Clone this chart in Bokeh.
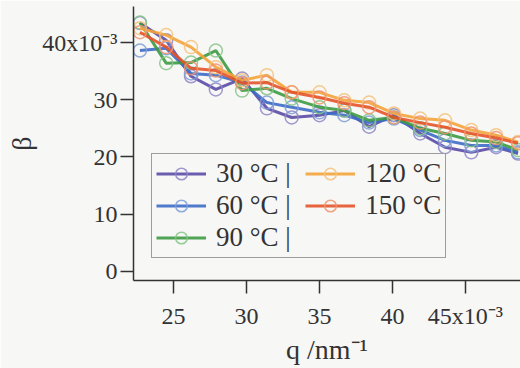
from bokeh.plotting import figure
from bokeh.models import Range1d, FixedTicker, Legend, LegendItem
from bokeh.embed import file_html
from bokeh.resources import INLINE

# q in units of 1e-3 nm^-1, beta in units of 1e-3
q = [22.7, 24.5, 26.2, 27.9, 29.7, 31.4, 33.1, 35.0, 36.7, 38.4, 40.1, 41.9, 43.6, 45.4, 47.1, 48.6]

beta_30 = [43.4, 40.4, 34.1, 31.8, 33.7, 28.5, 26.9, 27.3, 28.1, 25.3, 27.3, 24.1, 21.7, 20.8, 21.7, 20.6]
beta_60 = [38.6, 39.0, 34.6, 34.3, 33.0, 29.5, 28.7, 27.8, 27.3, 26.0, 26.7, 24.7, 22.9, 22.0, 22.0, 20.8]
beta_90 = [43.5, 36.4, 36.5, 38.6, 31.6, 32.0, 30.2, 28.7, 28.1, 26.4, 26.9, 25.0, 24.1, 22.9, 22.6, 21.2]
beta_120 = [42.5, 41.3, 39.2, 35.7, 33.4, 34.3, 31.3, 31.3, 29.9, 29.5, 27.6, 26.7, 26.4, 24.7, 23.8, 22.6]
beta_150 = [41.8, 39.2, 35.5, 35.1, 32.9, 33.0, 31.3, 30.4, 29.4, 28.7, 26.9, 26.0, 25.2, 24.1, 23.3, 22.4]

labels = ["30 °C |\u00a0\u00a0", "60 °C |\u00a0\u00a0", "90 °C |\u00a0\u00a0", "120 °C", "150 °C"]
x_ticks = [25, 30, 35, 40, 45]
y_ticks = [0, 10, 20, 30, 40]

series = [beta_30, beta_60, beta_90, beta_120, beta_150]
line_colors = ["#5a4aa6", "#3d6cc6", "#3c9a44", "#f4a33a", "#e4532a"]
marker_colors = ["#8f86c6", "#7f9ed8", "#86c488", "#f6c27a", "#f09470"]

FONT = "'Liberation Serif'"
TXT = "#333333"
BG = "#f7f7f5"

p = figure(width=520, height=368, output_backend="svg", toolbar_location=None,
           x_range=Range1d(22.26, 48.77), y_range=Range1d(-1.6, 46.3),
           min_border_left=133, min_border_right=0, min_border_top=6, min_border_bottom=88)
p.background_fill_color = BG
p.border_fill_color = BG
p.outline_line_color = None
p.xgrid.visible = False
p.ygrid.visible = False

items = []
for vals, lc, mc, lab in zip(series, line_colors, marker_colors, labels):
    r1 = p.line(q, vals, line_color=lc, line_width=3, line_alpha=0.9)
    r2 = p.scatter(q, vals, marker="circle", size=13, fill_color=None,
                   line_color=mc, line_width=1.5, line_alpha=0.85)
    items.append(LegendItem(label=lab, renderers=[r1, r2]))

for ax in (p.xaxis[0], p.yaxis[0]):
    ax.axis_line_color = TXT
    ax.axis_line_width = 1.5
    ax.major_tick_line_color = TXT
    ax.major_tick_line_width = 1.5
    ax.major_tick_in = 0
    ax.major_tick_out = 13
    ax.minor_tick_line_color = None
    ax.major_label_text_font = FONT
    ax.major_label_text_font_size = "24px"
    ax.major_label_text_color = TXT
    ax.axis_label_text_font = FONT
    ax.axis_label_text_font_size = "28px"
    ax.axis_label_text_color = TXT
    ax.axis_label_text_font_style = "normal"

p.xaxis.ticker = FixedTicker(ticks=x_ticks)
p.yaxis.ticker = FixedTicker(ticks=y_ticks)
p.xaxis.major_label_overrides = {45: "45x10⁻³"}
p.yaxis.major_label_overrides = {40: "40x10⁻³"}
p.xaxis.major_label_standoff = 9
p.yaxis.major_label_standoff = 3
p.xaxis.axis_label = "q /nm⁻¹"
p.yaxis.axis_label = "β"
p.xaxis.axis_label_standoff = 2
p.yaxis.axis_label_standoff = 2

legend = Legend(items=items, ncols=2, location=(18, 22))
legend.label_text_font = FONT
legend.label_text_font_size = "27px"
legend.label_text_color = TXT
legend.border_line_color = "#444444"
legend.border_line_width = 1.5
legend.background_fill_color = BG
legend.background_fill_alpha = 1.0
legend.glyph_width = 50
legend.glyph_height = 29
legend.label_height = 29
legend.label_standoff = 10
legend.spacing = 1
legend.padding = 4
legend.margin = 0
p.add_layout(legend, "center")

open("out.html", "w").write(file_html(p, INLINE))
